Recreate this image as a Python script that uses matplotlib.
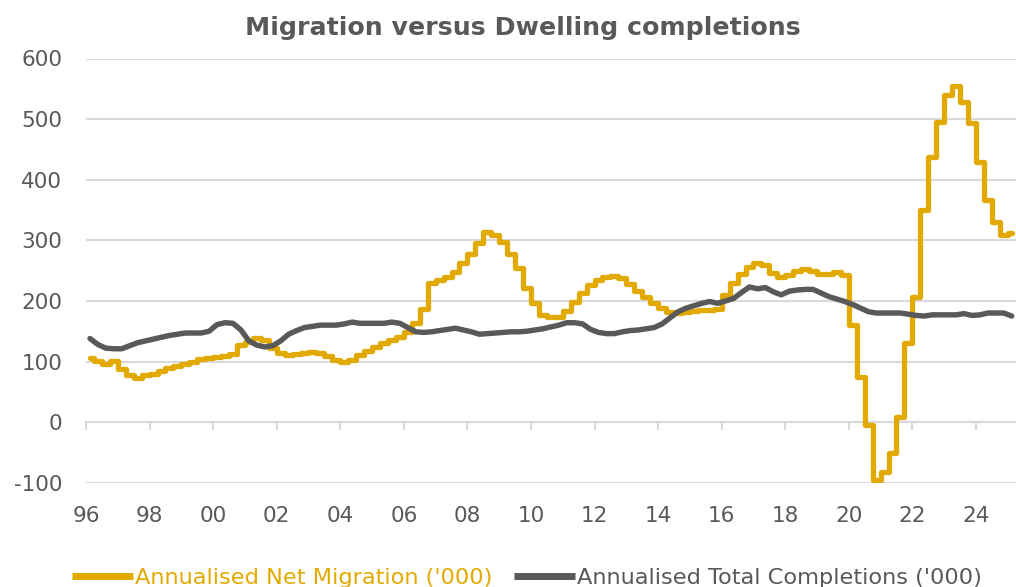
import numpy as np
import matplotlib
matplotlib.use("Agg")
import matplotlib.pyplot as plt

plt.rcParams['font.family'] = ['DejaVu Sans']

# Quarterly series, 1996 Q1 .. 2025 Q1 ('000, annualised)
start_year = 1996
net_migration = [
    106, 101, 96, 101,     # 1996
    88, 78, 72, 77,        # 1997
    80, 85, 89, 93,        # 1998
    96, 100, 104, 106,     # 1999
    108, 109, 112, 128,    # 2000
    133, 138, 135, 122,    # 2001
    114, 111, 113, 114,    # 2002
    116, 114, 109, 103,    # 2003
    100, 103, 111, 118,    # 2004
    124, 131, 136, 141,    # 2005
    148, 163, 186, 230,    # 2006
    235, 240, 248, 262,    # 2007
    278, 296, 313, 309,    # 2008
    298, 278, 255, 222,    # 2009
    196, 177, 174, 174,    # 2010
    184, 198, 213, 226,    # 2011
    234, 240, 241, 237,    # 2012
    228, 217, 206, 196,    # 2013
    188, 182, 180, 182,    # 2014
    183, 185, 185, 186,    # 2015
    210, 230, 245, 256,    # 2016
    263, 260, 246, 240,    # 2017
    242, 250, 252, 250,    # 2018
    245, 245, 248, 243,    # 2019
    160, 75, -5, -95,      # 2020
    -83, -51, 8, 130,      # 2021
    207, 350, 437, 495,    # 2022
    539, 554, 528, 493,    # 2023
    429, 366, 331, 309,    # 2024
    312,                   # 2025
]
total_completions = [
    138, 128, 122, 121,    # 1996
    121, 126, 131, 134,    # 1997
    137, 140, 143, 145,    # 1998
    147, 147, 147, 150,    # 1999
    161, 164, 163, 152,    # 2000
    134, 127, 124, 126,    # 2001
    134, 145, 151, 156,    # 2002
    158, 160, 160, 160,    # 2003
    162, 165, 163, 163,    # 2004
    163, 163, 165, 163,    # 2005
    156, 149, 148, 149,    # 2006
    151, 153, 155, 152,    # 2007
    149, 145, 146, 147,    # 2008
    148, 149, 149, 150,    # 2009
    152, 154, 157, 160,    # 2010
    164, 164, 162, 153,    # 2011
    148, 146, 146, 149,    # 2012
    151, 152, 154, 156,    # 2013
    162, 172, 182, 188,    # 2014
    192, 196, 199, 196,    # 2015
    200, 204, 214, 223,    # 2016
    220, 222, 215, 210,    # 2017
    216, 218, 219, 219,    # 2018
    213, 207, 203, 199,    # 2019
    194, 188, 182, 180,    # 2020
    180, 180, 180, 178,    # 2021
    176, 175, 177, 177,    # 2022
    177, 177, 179, 176,    # 2023
    177, 180, 180, 180,    # 2024
    175,                   # 2025
]
tick_years = list(range(1996, 2025, 2))
tick_labels = [f"{y % 100:02d}" for y in tick_years]
y_ticks = [-100, 0, 100, 200, 300, 400, 500, 600]

label_migration = "Annualised Net Migration ('000)"
label_completions = "Annualised Total Completions ('000)"
title = "Migration versus Dwelling completions"

GOLD = "#E2AA00"
DARK = "#595959"
GRID = "#D9D9D9"
TEXT = "#595959"

# mid-quarter positions in decimal years
x = start_year + 0.125 + 0.25 * np.arange(len(net_migration))

fig = plt.figure(figsize=(10.16, 5.87), dpi=100)
ax = fig.add_axes([86 / 1016, 1 - 482.7 / 587, 1 - 86 / 1016, (482.7 - 58.5) / 587])

ax.plot(x, net_migration, color=GOLD, lw=3.8, drawstyle='steps-mid',
        solid_joinstyle='round', solid_capstyle='round', label=label_migration, zorder=3)
ax.plot(x, total_completions, color=DARK, lw=3.9,
        solid_joinstyle='round', solid_capstyle='round', label=label_completions, zorder=4)

ax.set_xlim(1996, 2025.26)
ax.set_ylim(-100, 600)
ax.set_yticks(y_ticks)
ax.set_yticklabels([str(v) for v in y_ticks])
ax.grid(axis='y', color=GRID, lw=1.5)
ax.set_axisbelow(True)

for side in ('left', 'right', 'top'):
    ax.spines[side].set_visible(False)
ax.spines['bottom'].set_position(('data', 0))
ax.spines['bottom'].set_color(GRID)
ax.spines['bottom'].set_linewidth(1.5)

ax.set_xticks(tick_years)
ax.set_xticklabels(tick_labels)
ax.tick_params(axis='x', direction='out', length=6, width=1.5, color=GRID,
               pad=54.5, labelsize=15.5, labelcolor=TEXT)
ax.tick_params(axis='y', length=0, pad=17, labelsize=15.5, labelcolor=TEXT)

fig.text(0.515, 1 - 35 / 587, title, ha='center', va='baseline', fontsize=18.2,
         fontweight='bold', color=TEXT)

leg = fig.legend(loc='center', bbox_to_anchor=(0.519, 0.016), ncol=2, frameon=False,
                 fontsize=16.2, handlelength=2.7, handletextpad=0.1, columnspacing=0.95)
leg.get_texts()[0].set_color(GOLD)
leg.get_texts()[1].set_color(TEXT)
for line in leg.get_lines():
    line.set_linewidth(5)
    line.set_solid_capstyle('butt')

fig.savefig("out.png", dpi=100)
